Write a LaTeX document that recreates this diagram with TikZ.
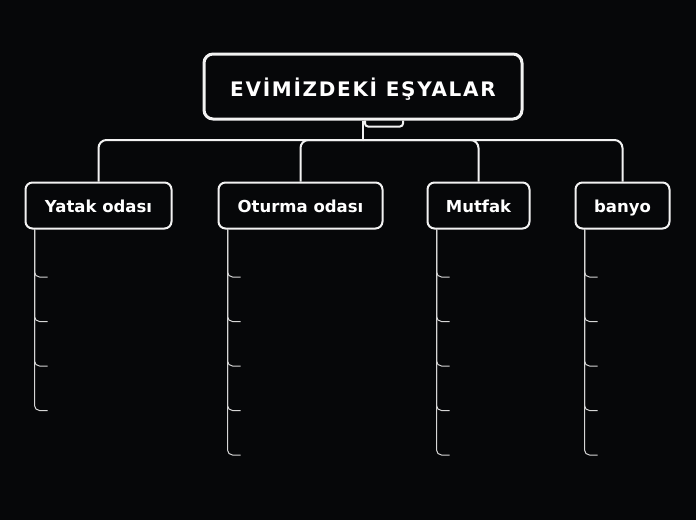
\documentclass[tikz,border=0pt]{standalone}
\usepackage{fontspec}
\setmainfont{DejaVu Sans}
\newfontfamily\rootfont[LetterSpace=8.5]{DejaVu Sans}
\usetikzlibrary{positioning}

\definecolor{bgblack}{HTML}{060709}
\definecolor{linewhite}{HTML}{F2F2F2}
\definecolor{leafgray}{HTML}{D6D6D6}

\tikzset{
  rootbox/.style={draw=linewhite, line width=3pt, rounded corners=9pt, text=white,
    minimum width=318pt, minimum height=65pt, inner sep=0pt,
    text height=20pt, text depth=1pt,
    font=\rootfont\bfseries\fontsize{20}{23}\selectfont},
  roombox/.style={draw=linewhite, line width=2pt, rounded corners=7pt, text=white,
    minimum height=46pt, inner sep=0pt, text height=15pt, text depth=1pt,
    font=\bfseries\fontsize{16.5}{19}\selectfont},
  link/.style={draw=linewhite, line width=2pt},
  leaf/.style={draw=leafgray, line width=1pt, rounded corners=5pt},
}

\begin{document}
\begin{tikzpicture}[x=1pt,y=-1pt]

%%% zemin
\fill[bgblack] (0,0) rectangle (696,520);
\useasboundingbox (0,0) rectangle (696,520);

%%% kutular
\node[rootbox] (root) at (363,86.5) {EVİMİZDEKİ EŞYALAR};

\node[roombox, minimum width=146pt] (yatak)  at (98.5,205.5)  {Yatak odası};
\node[roombox, minimum width=164pt] (oturma) at (300.5,205.5) {Oturma odası};
\node[roombox, minimum width=102pt] (mutfak) at (478.5,205.5) {Mutfak};
\node[roombox, minimum width=94pt]  (banyo)  at (622.5,205.5) {banyo};

%%% bağlantılar
\coordinate (bus) at (363,140);
\draw[link] (root.south) -- (bus);
\foreach \room in {yatak,oturma,mutfak,banyo}
  \draw[link, rounded corners=8pt] (bus) -| (\room.north);

% katlama sekmesi
\draw[link, rounded corners=3pt] ([xshift=2pt]root.south) |- ([xshift=40pt,yshift=-6pt]root.south) -- ([xshift=40pt]root.south);

%%% dallar
\foreach \room/\n in {yatak/4,oturma/5,mutfak/5,banyo/5}{
  \foreach \i in {1,...,\n}{
    \pgfmathsetmacro\ly{232.5+44.5*\i}
    \draw[leaf] ([xshift=10pt]\room.south west) |- ([xshift=23pt]\room.south west |- 0,\ly);
  }
}

\end{tikzpicture}
\end{document}
